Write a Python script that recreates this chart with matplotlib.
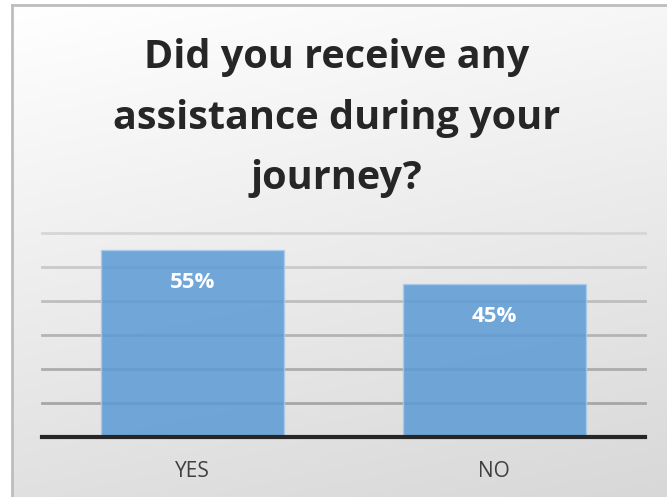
import numpy as np
import matplotlib
matplotlib.use('Agg')
import matplotlib.pyplot as plt

# chart data
categories = ['YES', 'NO']
values = [55, 45]
value_labels = ['55%', '45%']
title = 'Did you receive any\nassistance during your\njourney?'

FONT = ['Open Sans', 'DejaVu Sans']

W, H = 667, 497
fig = plt.figure(figsize=(W / 100, H / 100), dpi=100)
fig.patch.set_facecolor('white')

# gradient background panel with a light border (Excel chart area)
x0, y0 = 12 / W, 0.0
bw, bh = 1 - x0, 1 - 5 / H
bg = fig.add_axes([x0, y0, bw, bh], zorder=0)
yy, xx = np.mgrid[0:1:200j, 0:1:200j]
grad = 0.78 * yy + 0.22 * xx
bg.imshow(grad, cmap=matplotlib.colors.LinearSegmentedColormap.from_list(
    'bg', ['#ffffff', '#d8d8d8']), aspect='auto', origin='upper',
    extent=[0, 1, 0, 1], vmin=0, vmax=1)
bg.set_xlim(0, 1)
bg.set_ylim(0, 1)
bg.set_xticks([])
bg.set_yticks([])
for side in ['right', 'bottom']:
    bg.spines[side].set_visible(False)
for side in ['left', 'top']:
    bg.spines[side].set_color('#bdbdbd')
    bg.spines[side].set_linewidth(2)

# plot area
ax_left, ax_right = 42 / W, 645 / W
ax_bottom, ax_top = 1 - 437 / H, 1 - 233 / H
ax = fig.add_axes([ax_left, ax_bottom, ax_right - ax_left, ax_top - ax_bottom], zorder=1)
ax.patch.set_alpha(0)

x = np.arange(len(categories))
ax.set_xlim(-0.5, len(categories) - 0.5)
ax.set_ylim(0, 60)

# gridlines, darker towards the bottom
grid_colors = ['#a6a6a6', '#acacac', '#b4b4b4', '#bebebe', '#cacaca', '#d6d6d6']
for level, c in zip(range(10, 70, 10), grid_colors):
    ax.axhline(level, color=c, lw=2, zorder=1, clip_on=False)

bars = ax.bar(x, values, width=0.607, color='#5b9bd5', alpha=0.85,
              edgecolor='#a9cbeb', linewidth=1, zorder=2)

for xi, v, lab in zip(x, values, value_labels):
    ax.annotate(lab, (xi, v), xytext=(0, -32), textcoords='offset pixels',
                ha='center', va='center', color='white', fontsize=16,
                fontweight='bold', family=FONT, zorder=3)

ax.axhline(0, color='#262626', lw=3, zorder=3, clip_on=False)

ax.set_yticks([])
ax.set_xticks(x)
ax.set_xticklabels(categories, fontsize=15, color='#404040', family=FONT)
ax.tick_params(axis='x', length=0, pad=17)
for s in ax.spines.values():
    s.set_visible(False)

fig.text((W / 2 + 3) / W, 1 - 118 / H, title, ha='center', va='center',
         fontsize=28.5, fontweight='bold', color='#262626',
         family=FONT, linespacing=1.72, zorder=5)

fig.savefig('out.png', dpi=100)
